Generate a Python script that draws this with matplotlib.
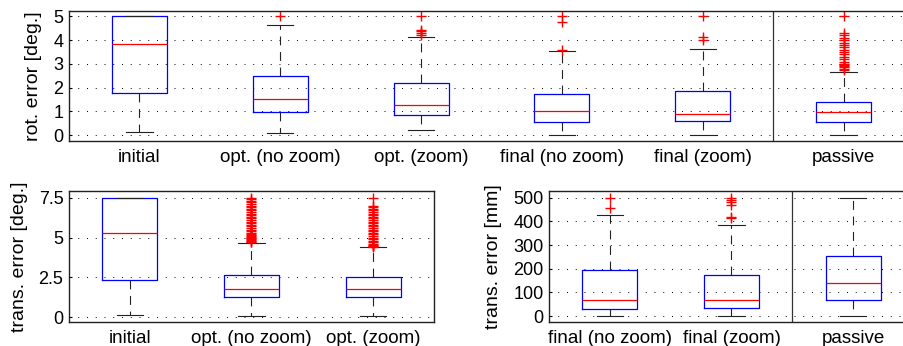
import matplotlib
matplotlib.use("Agg")
import matplotlib.pyplot as plt

plt.rcParams['font.family'] = ['Liberation Sans', 'DejaVu Sans']

# rotation error [deg.], top panel
rot_labels = ["initial", "opt. (no zoom)", "opt. (zoom)", "final (no zoom)", "final (zoom)", "passive"]
rot_q1 = [1.77, 0.96, 0.86, 0.56, 0.58, 0.53]
rot_med = [3.82, 1.50, 1.26, 1.00, 0.88, 0.96]
rot_q3 = [5.00, 2.50, 2.19, 1.74, 1.87, 1.40]
rot_lo = [0.15, 0.08, 0.20, 0.00, 0.00, 0.00]
rot_hi = [5.00, 4.65, 4.14, 3.54, 3.62, 2.67]
rot_fliers = [
    [],
    [5.0],
    [4.2, 4.3, 4.38, 4.45, 5.0],
    [3.6, 4.76, 5.0],
    [4.0, 4.12, 5.0],
    [2.75, 2.8, 2.85, 2.9, 2.95, 3.0, 3.1, 3.2, 3.3, 3.4, 3.5, 3.6, 3.7,
     3.8, 3.9, 4.0, 4.1, 4.2, 4.3, 5.0],
]

# translation error [deg.], bottom-left panel
tdeg_labels = ["initial", "opt. (no zoom)", "opt. (zoom)"]
tdeg_q1 = [2.32, 1.29, 1.25]
tdeg_med = [5.29, 1.79, 1.75]
tdeg_q3 = [7.50, 2.67, 2.50]
tdeg_lo = [0.14, 0.10, 0.10]
tdeg_hi = [7.50, 4.66, 4.39]
tdeg_fliers = [
    [],
    [4.7, 4.75, 4.8, 4.85, 4.9, 4.95, 5.0, 5.05, 5.1, 5.15, 5.2, 5.3, 5.4, 5.5,
     5.6, 5.7, 5.8, 5.9, 6.0, 6.1, 6.2, 6.3, 6.4, 6.5, 6.6, 6.7, 6.8, 6.9,
     7.0, 7.1, 7.2, 7.3, 7.4, 7.5],
    [4.4, 4.45, 4.5, 4.55, 4.6, 4.7, 4.8, 4.9, 5.0, 5.1, 5.2, 5.3, 5.4, 5.5,
     5.6, 5.7, 5.8, 5.9, 6.0, 6.1, 6.2, 6.3, 6.4, 6.5, 6.6, 6.7, 6.8, 6.9,
     7.0, 7.5],
]

# translation error [mm], bottom-right panel
tmm_labels = ["final (no zoom)", "final (zoom)", "passive"]
tmm_q1 = [28, 32, 66]
tmm_med = [69, 68, 141]
tmm_q3 = [196, 175, 255]
tmm_lo = [0, 0, 0]
tmm_hi = [425, 385, 500]
tmm_fliers = [
    [455, 500],
    [413, 420, 470, 480, 490, 500],
    [],
]

W, H = 904, 346
fig = plt.figure(figsize=(W / 100, H / 100), dpi=100)


def panel(rect, labels, q1, med, q3, lo, hi, fliers, width, sep, ylim, yticks, yticklabels,
          ylabel, labelx):
    # rect is (left, top, right, bottom) in pixels
    ax = fig.add_axes([rect[0] / W, 1 - rect[3] / H, (rect[2] - rect[0]) / W, (rect[3] - rect[1]) / H])
    stats = []
    for i in range(len(labels)):
        stats.append(dict(label=labels[i], q1=q1[i], med=med[i], q3=q3[i],
                          whislo=lo[i], whishi=hi[i], fliers=fliers[i]))
    ax.bxp(stats, positions=range(1, len(labels) + 1), widths=width, capwidths=width * 0.48,
           boxprops=dict(color="#0000ff", lw=0.9),
           medianprops=dict(color="#ff0000", lw=0.9),
           whiskerprops=dict(color="#222222", lw=0.8, linestyle=(0, (8, 6))),
           capprops=dict(color="#222222", lw=0.8),
           flierprops=dict(marker="+", markeredgecolor="#ff0000", markersize=7, markeredgewidth=1.0,
                           linestyle="none"))
    ax.axvline(sep, color="#333333", lw=0.9)
    ax.set_xlim(0.5, len(labels) + 0.5)
    ax.set_ylim(*ylim)
    ax.set_yticks(yticks)
    ax.set_yticklabels(yticklabels)
    ax.yaxis.grid(True, color="black", lw=0.7, linestyle=(0, (1, 8)))
    ax.set_axisbelow(True)
    ax.tick_params(axis="x", length=0, pad=6, labelsize=13.5)
    ax.tick_params(axis="y", direction="in", length=2, labelsize=13, pad=4)
    for s in ax.spines.values():
        s.set_color("#222222")
        s.set_linewidth(1.0)
    ax.set_ylabel(ylabel, fontsize=14)
    ax.yaxis.set_label_coords(labelx, 0.5)
    return ax


panel((69, 11, 914, 141), rot_labels, rot_q1, rot_med, rot_q3, rot_lo, rot_hi, rot_fliers,
      0.39, 5.5, (-0.25, 5.23), [0, 1, 2, 3, 4, 5], ["0", "1", "2", "3", "4", "5"],
      "rot. error [deg.]", -0.032)
panel((69, 191, 434, 322), tdeg_labels, tdeg_q1, tdeg_med, tdeg_q3, tdeg_lo, tdeg_hi, tdeg_fliers,
      0.45, 10, (-0.3, 7.92), [0, 2.5, 5, 7.5], ["0", "2.5", "5", "7.5"],
      "trans. error [deg.]", -0.112)
panel((549, 191, 914, 322), tmm_labels, tmm_q1, tmm_med, tmm_q3, tmm_lo, tmm_hi, tmm_fliers,
      0.45, 2.5, (-25, 528), [0, 100, 200, 300, 400, 500],
      ["0", "100", "200", "300", "400", "500"], "trans. error [mm]", -0.129)

fig.savefig("out.png", dpi=100)
